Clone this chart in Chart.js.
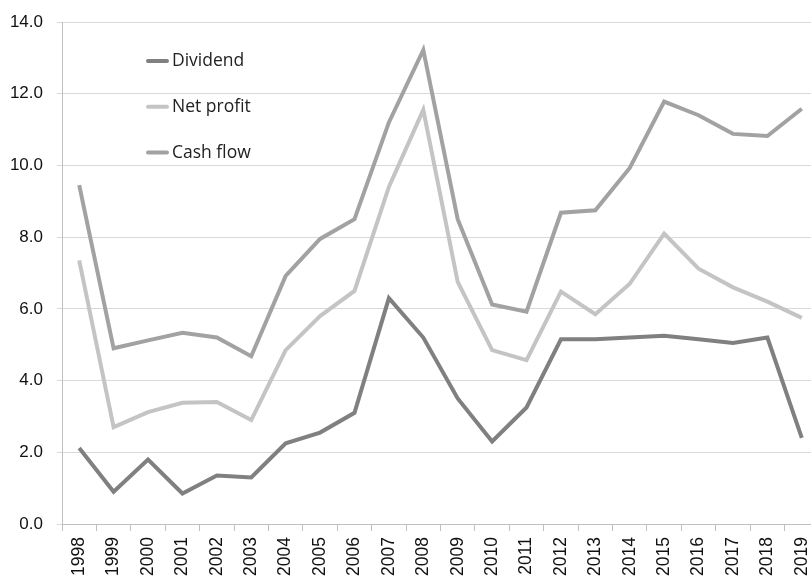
<!DOCTYPE html>
<html>
<head>
<meta charset="utf-8">
<script src="https://cdn.jsdelivr.net/npm/chart.js@4/dist/chart.umd.min.js"></script>
<style>
  html, body { margin: 0; padding: 0; background: #fff; overflow: hidden; }
  #wrap { position: relative; width: 819px; height: 577px; }
</style>
</head>
<body>
<div id="wrap"><canvas id="chart"></canvas></div>
<script>
const years = ['1998', '1999', '2000', '2001', '2002', '2003', '2004', '2005', '2006', '2007', '2008',
    '2009', '2010', '2011', '2012', '2013', '2014', '2015', '2016', '2017', '2018', '2019'];
const dividend = [2.12, 0.9, 1.8, 0.85, 1.35, 1.3, 2.25, 2.55, 3.1, 6.3, 5.2,
    3.5, 2.3, 3.25, 5.15, 5.15, 5.2, 5.25, 5.15, 5.05, 5.2, 2.4];
const netProfit = [7.35, 2.7, 3.12, 3.38, 3.4, 2.9, 4.85, 5.8, 6.5, 9.4, 11.55,
    6.75, 4.85, 4.57, 6.48, 5.85, 6.7, 8.1, 7.12, 6.6, 6.2, 5.75];
const cashFlow = [9.45, 4.9, 5.12, 5.33, 5.2, 4.68, 6.92, 7.95, 8.5, 11.2, 13.22,
    8.5, 6.12, 5.92, 8.68, 8.75, 9.93, 11.78, 11.4, 10.88, 10.82, 11.58];

// legend drawn inside the plot area, top left
const innerLegend = {
    id: 'innerLegend',
    afterDraw(chart) {
        const ctx = chart.ctx;
        const area = chart.chartArea;
        ctx.save();
        chart.data.datasets.forEach((ds, i) => {
            const y = area.top + 39 + i * 45.8;
            const x = area.left + 86;
            ctx.strokeStyle = ds.borderColor;
            ctx.lineWidth = 4;
            ctx.lineCap = 'round';
            ctx.beginPath();
            ctx.moveTo(x, y);
            ctx.lineTo(x + 19, y);
            ctx.stroke();
            ctx.fillStyle = '#222';
            ctx.font = '17.5px "Open Sans", sans-serif';
            ctx.textBaseline = 'middle';
            ctx.fillText(ds.label, x + 24, y);
        });
        ctx.restore();
    }
};

new Chart(document.getElementById('chart'), {
    type: 'line',
    data: {
        labels: years,
        datasets: [
            { label: 'Dividend', data: dividend, borderColor: '#808080' },
            { label: 'Net profit', data: netProfit, borderColor: '#c4c4c4' },
            { label: 'Cash flow', data: cashFlow, borderColor: '#a2a2a2' }
        ]
    },
    options: {
        responsive: true,
        maintainAspectRatio: false,
        animation: false,
        elements: {
            point: { radius: 0 },
            line: { borderWidth: 4, tension: 0, borderJoinStyle: 'miter', fill: false }
        },
        layout: { padding: { left: 10, top: 22, right: 0, bottom: 0 } },
        plugins: {
            legend: { display: false },
            tooltip: { enabled: false }
        },
        scales: {
            x: {
                offset: true,
                afterFit: s => { s.height = 53; s.paddingLeft = 0; s.paddingRight = 0; },
                grid: {
                    offset: true,
                    drawOnChartArea: false,
                    tickLength: 7,
                    color: '#bfbfbf'
                },
                border: { color: '#bfbfbf' },
                ticks: {
                    minRotation: 90,
                    maxRotation: 90,
                    padding: 6,
                    color: '#111',
                    font: { family: '"Liberation Sans", Arial, sans-serif', size: 17.5 }
                }
            },
            y: {
                min: 0,
                max: 14,
                afterFit: s => { s.width = 52; s.paddingTop = 0; s.paddingBottom = 0; },
                grid: { color: '#d9d9d9', tickLength: 5 },
                border: { color: '#bfbfbf' },
                ticks: {
                    stepSize: 2,
                    padding: 14,
                    color: '#111',
                    font: { family: '"Liberation Sans", Arial, sans-serif', size: 17 },
                    callback: v => v.toFixed(1)
                }
            }
        }
    },
    plugins: [innerLegend]
});
</script>
</body>
</html>
